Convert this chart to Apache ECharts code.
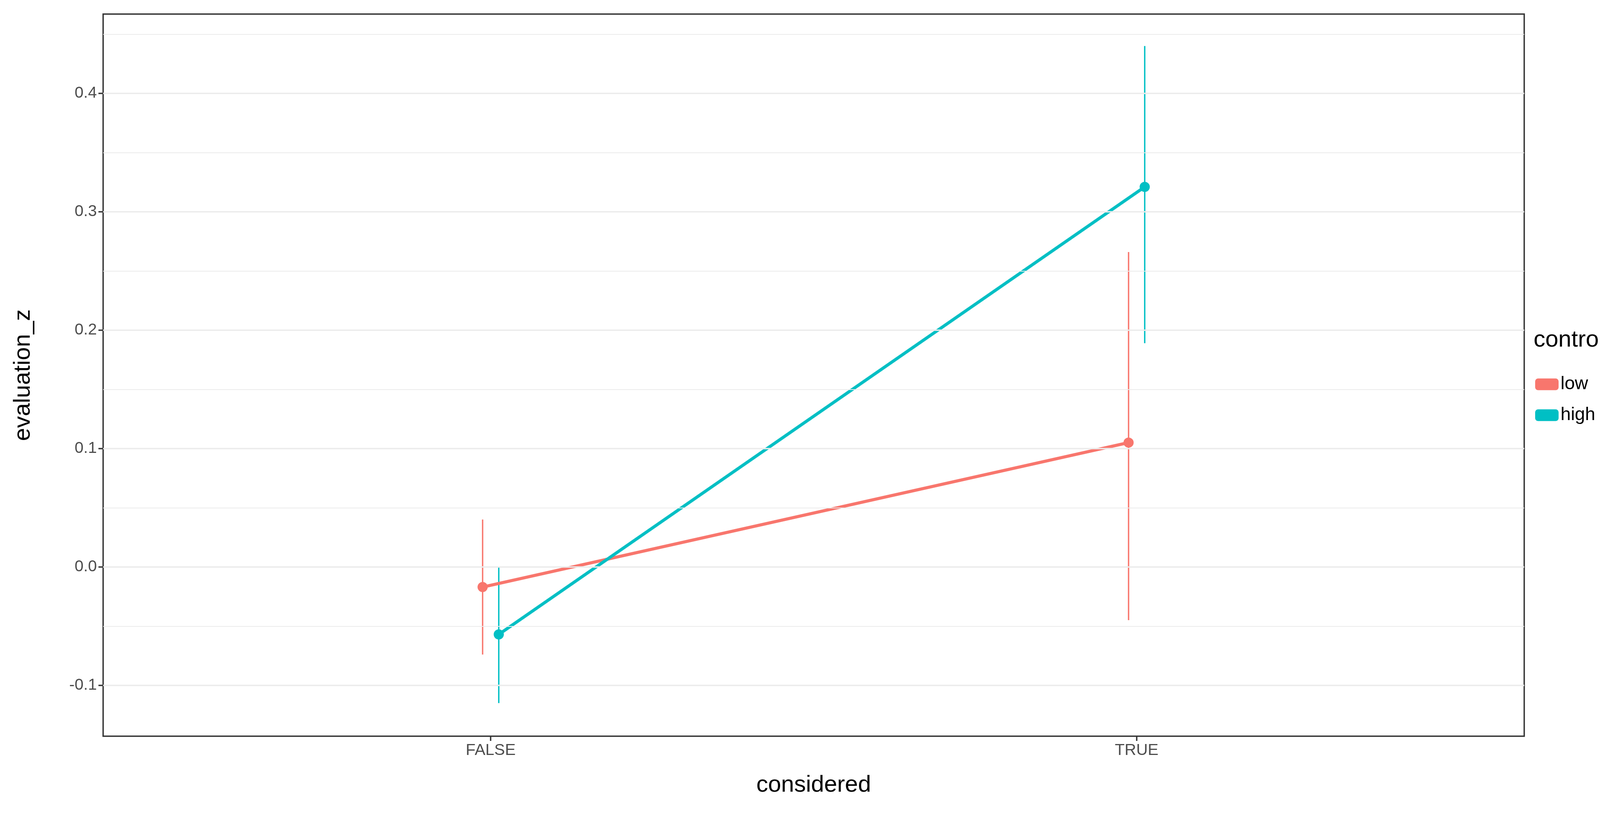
<!DOCTYPE html>
<html>
<head>
<meta charset="utf-8">
<script src="https://cdn.jsdelivr.net/npm/echarts@6/dist/echarts.min.js"></script>
<style>html,body{margin:0;background:#fff;overflow:hidden}#chart{width:4318px;height:2101px}</style>
</head>
<body>
<div id="chart"></div>
<script>
var categories = ['FALSE', 'TRUE'];
var groups = ['low', 'high'];
var lowMean = [-0.017, 0.105];
var lowLower = [-0.074, -0.045];
var lowUpper = [0.040, 0.266];
var highMean = [-0.057, 0.321];
var highLower = [-0.115, 0.189];
var highUpper = [0.000, 0.440];
var yTicks = [-0.1, 0.0, 0.1, 0.2, 0.3, 0.4];
var yMinor = [-0.05, 0.05, 0.15, 0.25, 0.35, 0.45];

var colors = ['#F8766D', '#00BFC4'];
var dodge = [-0.0125, 0.0125];
var font = 'Liberation Sans, Arial, sans-serif';

function pts(mean, d) {
    return mean.map(function (v, i) { return [i + 1 + d, v]; });
}
function bars(lo, hi, d) {
    return lo.map(function (v, i) { return [i + 1 + d, v, hi[i]]; });
}
function errSeries(name, lo, hi, d, color) {
    return {
        name: name,
        type: 'custom',
        color: color,
        data: bars(lo, hi, d),
        renderItem: function (params, api) {
            var a = api.coord([api.value(0), api.value(1)]);
            var b = api.coord([api.value(0), api.value(2)]);
            return { type: 'line', shape: { x1: a[0], y1: a[1], x2: b[0], y2: b[1] },
                style: { stroke: color, lineWidth: 3.5 } };
        },
        z: 2
    };
}

var gridLines = yTicks.map(function (v) {
    return { yAxis: v, lineStyle: { color: '#EBEBEB', width: 3.5, type: 'solid' } };
}).concat(yMinor.map(function (v) {
    return { yAxis: v, lineStyle: { color: '#EBEBEB', width: 1.8, type: 'solid' } };
}));

var chart = echarts.init(document.getElementById('chart'));
chart.setOption({
    animation: false,
    backgroundColor: '#fff',
    grid: { left: 264, right: 416, top: 36, bottom: 217, show: true, borderColor: '#333', borderWidth: 3.5 },
    xAxis: {
        type: 'value', min: 0.4, max: 2.6,
        name: 'considered', nameLocation: 'middle', nameGap: 95,
        nameTextStyle: { fontSize: 60, color: '#000', fontFamily: font },
        axisLine: { show: false, onZero: false },
        axisTick: { show: true, customValues: [1, 2], length: 12, lineStyle: { color: '#333', width: 3.5 } },
        axisLabel: { customValues: [1, 2], fontSize: 41, color: '#4D4D4D', fontFamily: font, margin: 16,
            formatter: function (v) { return categories[Math.round(v) - 1]; } },
        splitLine: { show: false }
    },
    yAxis: {
        type: 'value', min: -0.143, max: 0.467,
        name: 'evaluation_z', nameLocation: 'middle', nameGap: 175,
        nameTextStyle: { fontSize: 60, color: '#000', fontFamily: font },
        axisLine: { show: false, onZero: false },
        axisTick: { show: true, customValues: yTicks, length: 12, lineStyle: { color: '#333', width: 3.5 } },
        axisLabel: { customValues: yTicks, fontSize: 41, color: '#4D4D4D', fontFamily: font, margin: 16,
            formatter: function (v) { return v.toFixed(1); } },
        splitLine: { show: false }
    },
    graphic: [{ type: 'text', left: 3926, top: 840,
        style: { text: 'control', fontSize: 60, fill: '#000', fontFamily: font } }],
    legend: {
        orient: 'vertical', left: 3925, top: 955, itemGap: 32, itemWidth: 60, itemHeight: 30,
        data: [{ name: 'low', itemStyle: { color: colors[0] } }, { name: 'high', itemStyle: { color: colors[1] } }],
        textStyle: { fontSize: 47, color: '#000', fontFamily: font }
    },
    series: [
        { name: 'grid', type: 'line', data: [], silent: true,
          markLine: { silent: true, symbol: 'none', label: { show: false }, data: gridLines }, z: 0 },
        errSeries('low', lowLower, lowUpper, dodge[0], colors[0]),
        errSeries('high', highLower, highUpper, dodge[1], colors[1]),
        { name: 'low', type: 'line', data: pts(lowMean, dodge[0]), color: colors[0],
          symbol: 'circle', symbolSize: 26, lineStyle: { width: 8 }, z: 3 },
        { name: 'high', type: 'line', data: pts(highMean, dodge[1]), color: colors[1],
          symbol: 'circle', symbolSize: 26, lineStyle: { width: 8 }, z: 3 }
    ]
});
</script>
</body>
</html>
